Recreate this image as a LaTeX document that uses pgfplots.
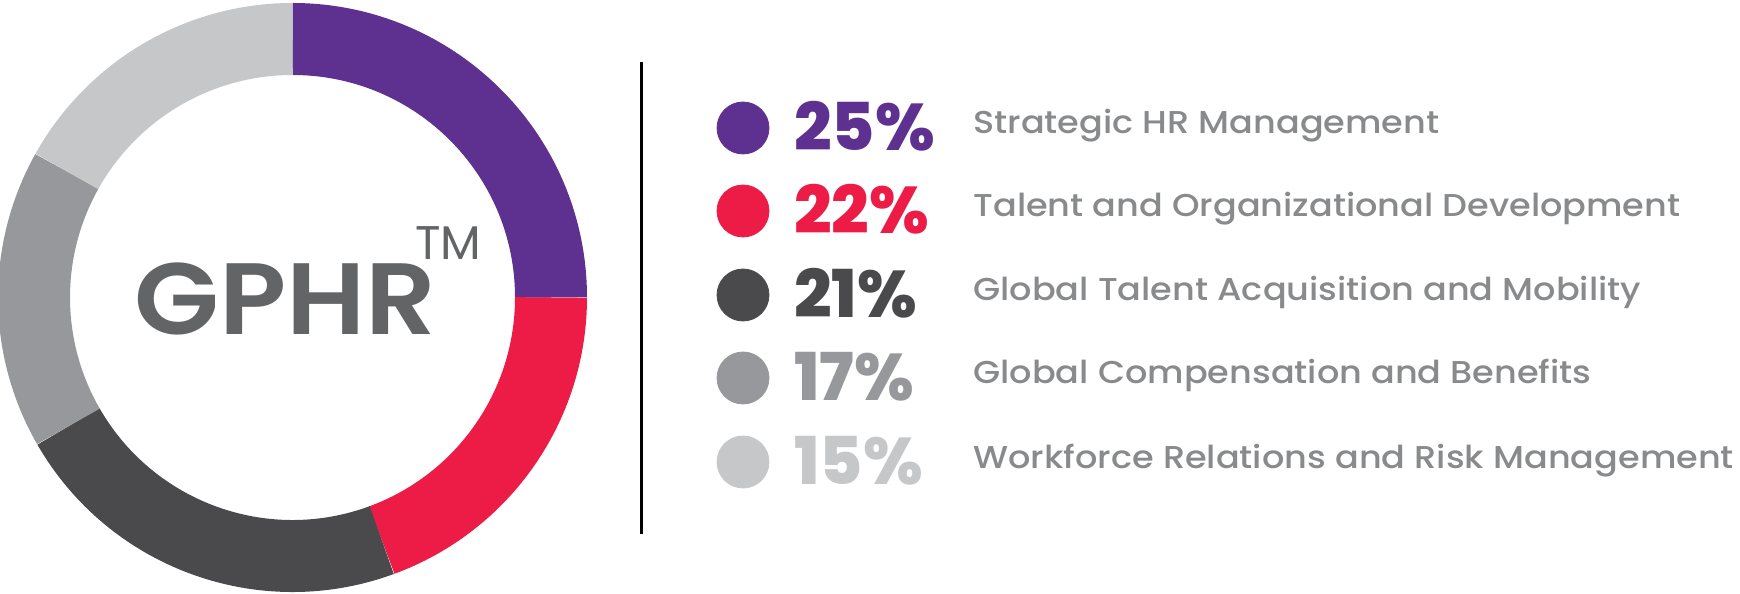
\documentclass[border=0pt]{standalone}
\usepackage{pgfplots}
\usepackage{pgfplotstable}
\pgfplotsset{compat=1.18}
\usepackage{fontspec}
\setmainfont{Poppins}
\newfontfamily\numfont{Poppins ExtraBold}
\newfontfamily\titlefont{Poppins SemiBold}
\newfontfamily\labelfont{Poppins Medium}

\definecolor{c0}{RGB}{94,49,144}
\definecolor{c1}{RGB}{236,28,71}
\definecolor{c2}{RGB}{74,74,76}
\definecolor{c3}{RGB}{151,152,155}
\definecolor{c4}{RGB}{198,199,201}
\definecolor{cLabel}{RGB}{137,138,140}
\definecolor{cTitle}{RGB}{99,100,102}

% pct: share shown in the legend; start/end: ring angles as drawn (degrees)
\pgfplotstableread[col sep=comma]{
pct,start,end,y,label
25,90,0,466,Strategic HR Management
22,0,-69.8,383,Talent and Organizational Development
21,-69.8,-150.1,299,Global Talent Acquisition and Mobility
17,-150.1,-209.2,216,Global Compensation and Benefits
15,-209.2,-270,132,Workforce Relations and Risk Management
}\gphr

\begin{document}
\begin{tikzpicture}
\begin{axis}[
  hide axis,
  x=0.5pt, y=0.5pt,
  xmin=0, xmax=1740, ymin=0, ymax=594,
  clip=false,
]
\pgfplotsinvokeforeach{0,...,4}{
  \pgfplotstablegetelem{#1}{start}\of\gphr \edef\sa{\pgfplotsretval}
  \pgfplotstablegetelem{#1}{end}\of\gphr \edef\ea{\pgfplotsretval}
  \pgfplotstablegetelem{#1}{pct}\of\gphr \edef\pc{\pgfplotsretval}
  \pgfplotstablegetelem{#1}{y}\of\gphr \edef\yy{\pgfplotsretval}
  \pgfplotstablegetelem{#1}{label}\of\gphr \edef\lab{\pgfplotsretval}
  \edef\cmd{%
    \noexpand\draw[line width=36pt, color=c#1]
      (axis cs:292.5,296.5) ++(canvas polar cs:angle=\sa,radius=129.25pt)
      arc[start angle=\sa, end angle=\ea, radius=129.25pt];
    \noexpand\addplot[only marks, mark=*, mark size=13pt, color=c#1,
      mark options={draw=c#1, fill=c#1}]
      coordinates {(743,\yy)};
    \noexpand\node[anchor=base west, inner sep=0pt, text=c#1,
      font=\noexpand\numfont\noexpand\fontsize{33}{36}\noexpand\selectfont]
      at (axis cs:794,\yy-23) {\pc\noexpand\%};
    \noexpand\node[anchor=base west, inner sep=0pt, text=cLabel, xscale=1.11,
      font=\noexpand\labelfont\noexpand\fontsize{15.8}{18}\noexpand\selectfont]
      at (axis cs:973,\yy-6) {\lab};
  }
  \cmd
}
\draw[black, line width=1.5pt] (axis cs:641.5,532) -- (axis cs:641.5,60);
\node[anchor=base west, inner sep=0pt, text=cTitle, xscale=1.09,
  font=\titlefont\fontsize{50.7}{54}\selectfont] at (axis cs:134,259) {GPHR};
\node[anchor=base west, inner sep=0pt, text=cTitle,
  font=\fontsize{23.6}{26}\selectfont] at (axis cs:415,334) {TM};
\end{axis}
\pgfresetboundingbox
\useasboundingbox (current axis.south west) rectangle (current axis.north east);
\end{tikzpicture}
\end{document}
